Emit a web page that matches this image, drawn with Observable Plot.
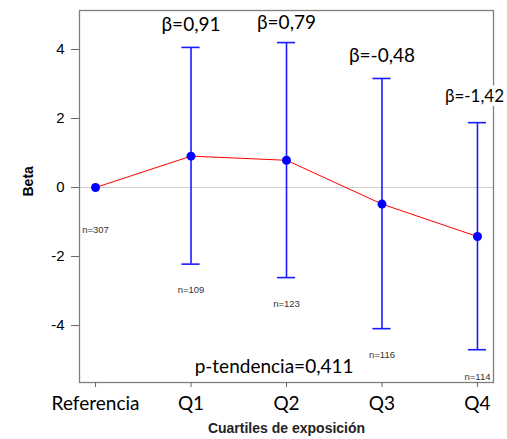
<!DOCTYPE html>
<html><head><meta charset="utf-8">
<script src="https://cdn.jsdelivr.net/npm/d3@7"></script>
<script src="https://cdn.jsdelivr.net/npm/@observablehq/plot@0.6"></script>
<style>body{margin:0;background:#fff}</style>
</head><body><div id="chart"></div>
<script>
const categories = ["Referencia", "Q1", "Q2", "Q3", "Q4"];
const beta = [0, 0.91, 0.79, -0.48, -1.42];
const ciLow = [null, -2.22, -2.61, -4.09, -4.70];
const ciHigh = [null, 4.06, 4.20, 3.16, 1.88];
const betaLabels = [null, "β=0,91", "β=0,79", "β=-0,48", "β=-1,42"];
const betaLabelY = [null, 4.7, 4.78, 3.8, 2.64];
const nLabels = ["n=307", "n=109", "n=123", "n=116", "n=114"];
const nLabelY = [-1.22, -2.96, -3.36, -4.84, -5.48];
const yTicks = [-4, -2, 0, 2, 4];
const pTrend = "p-tendencia=0,411";
const pTrendX = 1.87, pTrendY = -5.19;

const rows = categories.map((c, i) => ({i, cat: c, beta: beta[i], lo: ciLow[i], hi: ciHigh[i],
  bl: betaLabels[i], bly: betaLabelY[i], nl: nLabels[i], nly: nLabelY[i]}));
const ci = rows.filter(d => d.lo != null);
const labelMain = ci.slice(0, 3);
const labelLast = ci.slice(3);

const chart = Plot.plot({
  width: 507, height: 439,
  marginLeft: 79, marginRight: 14, marginTop: 10, marginBottom: 57,
  x: {domain: [-0.168, 4.168]},
  y: {domain: [-5.65, 5.13]},
  style: {fontFamily: "'Liberation Sans', Arial, sans-serif", background: "white", overflow: "visible"},
  marks: [
    Plot.ruleY([0], {stroke: "#d0d0d0", strokeWidth: 1}),
    Plot.line(rows, {x: "i", y: "beta", stroke: "#ff0000", strokeWidth: 1}),
    Plot.ruleX(ci, {x: "i", y1: "lo", y2: "hi", stroke: "#1a1aff", strokeWidth: 1.6}),
    Plot.ruleY(ci, {y: "hi", x1: d => d.i - 0.095, x2: d => d.i + 0.095, stroke: "#1a1aff", strokeWidth: 1.6}),
    Plot.ruleY(ci, {y: "lo", x1: d => d.i - 0.095, x2: d => d.i + 0.095, stroke: "#1a1aff", strokeWidth: 1.6}),
    Plot.dot(rows, {x: "i", y: "beta", r: 4.5, fill: "#0000ff", stroke: "none"}),
    Plot.frame({stroke: "#808080", strokeWidth: 1.3}),
    Plot.text(rows, {x: "i", y: "nly", text: "nl", fontSize: 9.5, fill: "#333"}),
    Plot.text(labelMain, {x: "i", y: "bly", text: "bl", fontSize: 19, fontFamily: "Lato", fill: "black", stroke: "white", strokeWidth: 6, paintOrder: "stroke"}),
    Plot.text(labelLast, {x: "i", y: "bly", text: "bl", dx: -3, fontSize: 17, fontFamily: "Lato", fill: "black", stroke: "white", strokeWidth: 8, paintOrder: "stroke"}),
    Plot.text([pTrend], {x: pTrendX, y: pTrendY, text: d => d, fontSize: 19, fontFamily: "Lato", fill: "black"}),
    Plot.axisX({ticks: [0, 1, 2, 3, 4], tickFormat: i => categories[i], tickSize: 5, tickPadding: 9, fontSize: 19, fontFamily: "Lato", stroke: "#666", color: "black", label: null}),
    Plot.axisY({ticks: yTicks, tickFormat: d => String(d), tickSize: 8, tickPadding: 7, fontSize: 15, stroke: "#666", label: null}),
    Plot.text(["Beta"], {frameAnchor: "left", text: d => d, rotate: -90, dx: -51, fontSize: 14, fontWeight: "bold"}),
    Plot.text(["Cuartiles de exposición"], {frameAnchor: "bottom", text: d => d, dy: 50, fontSize: 14, fontWeight: "bold", fill: "#222"})
  ]
});
document.getElementById("chart").appendChild(chart);
</script>
</body></html>
